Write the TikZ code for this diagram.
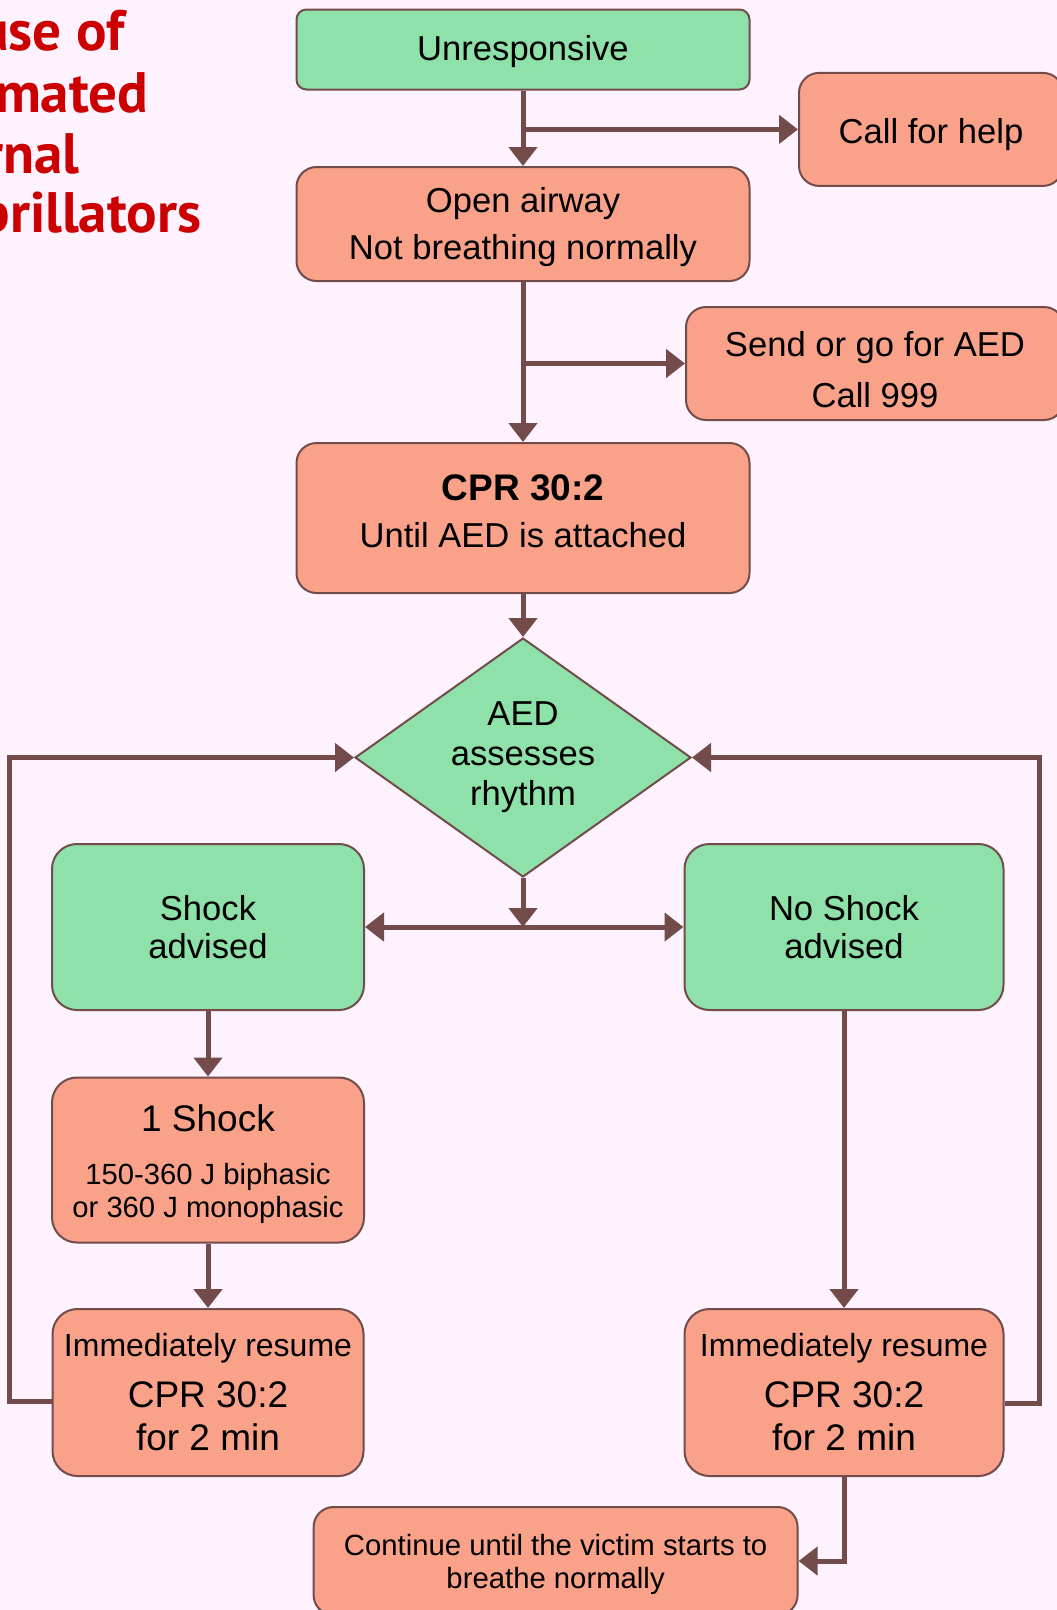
\documentclass[tikz,border=0pt]{standalone}
\usepackage{fontspec}
\setmainfont{Liberation Sans}
\newfontfamily\titlefont{PT Sans}
\usetikzlibrary{shapes.geometric,positioning,arrows.meta}

\definecolor{bgpink}{RGB}{253,242,253}
\definecolor{actfill}{RGB}{249,162,137}
\definecolor{askfill}{RGB}{142,225,168}
\definecolor{edgebrown}{RGB}{115,75,75}
\definecolor{titlered}{RGB}{204,0,0}

\newcommand{\bodyfnt}{\fontsize{34.6}{47}\selectfont}
% struts to nudge text inside a box
\newcommand{\lowerby}[1]{\rule{0pt}{#1}}
\newcommand{\raiseby}[1]{\rule[-#1]{0pt}{0pt}}

\begin{document}
\begin{tikzpicture}[x=1pt,y=1pt,on grid,node distance=100pt,
	stepbox/.style={draw=edgebrown,line width=2pt,rounded corners=20pt,
		align=center,inner sep=0pt,font=\bodyfnt},
	actbox/.style={stepbox,fill=actfill},
	askbox/.style={stepbox,fill=askfill},
	link/.style={draw=edgebrown,line width=5pt,-{Triangle[length=19pt,width=28pt]}},
	titleline/.style={anchor=base east,text=titlered,
		font=\titlefont\bfseries\fontsize{57}{57}\selectfont}]
	\path[use as bounding box,fill=bgpink] (0,0) rectangle (1057,-1610);
	\clip (0,0) rectangle (1057,-1610);

	% title (cut by the left edge)
	\node[titleline] (tuse) at (128,-50) {use of};
	\node[titleline] (tmated) at (152,-112) {mated};
	\node[titleline] (trnal) at (83,-173) {rnal};
	\node[titleline] (tbril) at (205,-232) {brillators};

	% main column
	\node[askbox,rounded corners=10pt,minimum width=453pt,minimum height=80pt] (unresp) at (523,-49.5) {\lowerby{29pt}Unresponsive};
	\node[actbox,minimum width=453pt,minimum height=114pt] (airway) [below=174.5pt of unresp] {\lowerby{31pt}Open airway\\Not breathing normally};
	\node[actbox,minimum width=453pt,minimum height=150pt] (cpr) [below=294pt of airway] {{\fontsize{37}{47}\selectfont\bfseries CPR 30:2}\\Until AED is attached\raiseby{14pt}};
	\node[askbox,shape=diamond,aspect=1.406,sharp corners,minimum width=336pt,minimum height=239pt,
		font=\fontsize{34.6}{40}\selectfont] (aed) [below=239.5pt of cpr] {AED\\assesses\\rhythm};

	% side boxes
	\node[actbox,minimum width=264pt,minimum height=113pt] (callhelp) at (931,-129.4) {\lowerby{35pt}Call for help};
	\node[actbox,minimum width=378pt,minimum height=113pt,font=\fontsize{34.6}{51}\selectfont] (sendaed) at (875,-363.5) {\lowerby{37pt}Send or go for AED\\Call 999};

	% shock / no shock
	\node[askbox,rounded corners=25pt,minimum width=312pt,minimum height=166pt,
		font=\fontsize{34.6}{38}\selectfont] (shock) at (208,-927) {Shock\\advised};
	\node[askbox,rounded corners=25pt,minimum width=319pt,minimum height=166pt,
		font=\fontsize{34.6}{38}\selectfont] (noshock) at (844,-927) {No Shock\\advised};
	\node[actbox,rounded corners=25pt,minimum width=312pt,minimum height=165pt,
		font=\fontsize{29.2}{33}\selectfont] (oneshock) [below=233pt of shock]
		{{\fontsize{37}{37}\selectfont\lowerby{35pt}1 Shock}\\[20pt]150-360 J biphasic\\or 360 J monophasic};
	\node[actbox,rounded corners=25pt,minimum width=311pt,minimum height=167pt,
		font=\fontsize{37}{43}\selectfont] (resumeL) [below=232.5pt of oneshock]
		{{\fontsize{32}{32}\selectfont Immediately resume}\\[8pt]CPR 30:2\\for 2 min};
	\node[actbox,rounded corners=25pt,minimum width=319pt,minimum height=167pt,
		font=\fontsize{37}{43}\selectfont] (resumeR) [below=465.5pt of noshock]
		{{\fontsize{32}{32}\selectfont Immediately resume}\\[8pt]CPR 30:2\\for 2 min};
	\node[actbox,minimum width=484pt,minimum height=108pt,
		font=\fontsize{29.3}{33}\selectfont] (cont) at (555.6,-1561)
		{\lowerby{29pt}Continue until the victim starts to\\breathe normally};

	% connectors
	\draw[link] (unresp) -- (airway);
	\draw[link] (unresp.south |- callhelp) -- (callhelp);
	\draw[link] (airway) -- (cpr);
	\draw[link] (airway.south |- sendaed) -- (sendaed);
	\draw[link] (cpr) -- (aed);
	\coordinate (split) at (aed.south |- shock);
	\draw[link] (aed) -- (split);
	\draw[link] (split) -- (shock);
	\draw[link] (split) -- (noshock);
	\draw[link] (shock) -- (oneshock);
	\draw[link] (oneshock) -- (resumeL);
	\draw[link] (noshock) -- (resumeR);
	\draw[link] ([yshift=-9pt]resumeL.west) -- ++(-42,0) |- (aed.west);
	\draw[link] ([yshift=-11pt]resumeR.east) -- ++(35,0) |- (aed.east);
	\draw[link] (resumeR) |- (cont);
\end{tikzpicture}
\end{document}
